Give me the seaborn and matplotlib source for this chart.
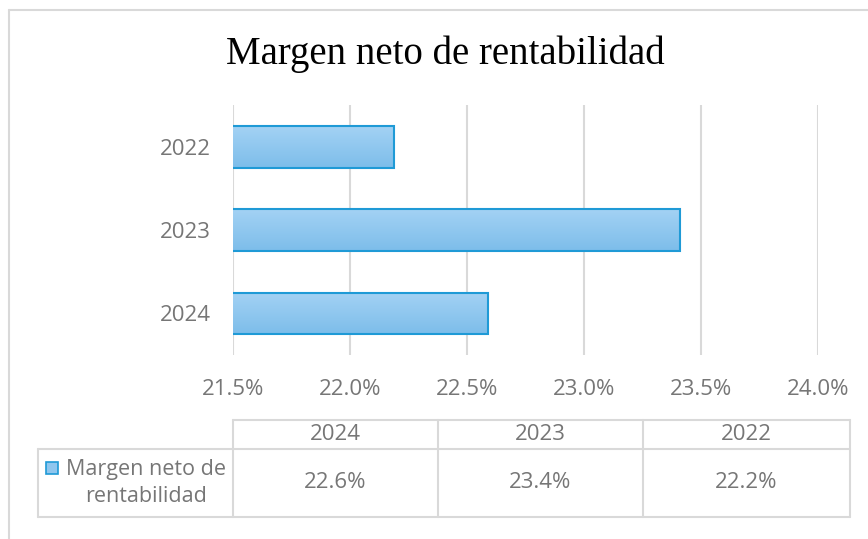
import numpy as np
import pandas as pd
import matplotlib
matplotlib.use('Agg')
import matplotlib.pyplot as plt
import seaborn as sns
from matplotlib.patches import Rectangle
from matplotlib.lines import Line2D
from matplotlib.colors import LinearSegmentedColormap

# datos
anios = ['2022', '2023', '2024']
margen = [22.19, 23.41, 22.59]
anios_tabla = ['2024', '2023', '2022']
ticks_x = [21.5, 22.0, 22.5, 23.0, 23.5, 24.0]
serie = 'Margen neto de rentabilidad'

df = pd.DataFrame({'anio': anios, 'margen': margen})

sns.set_theme(style='white')
plt.rcParams['font.family'] = ['Open Sans', 'DejaVu Sans']

W, H = 868, 539
gris = '#767676'
linea = '#d9d9d9'
borde = '#1f9ad6'
xmin, xmax = 21.5, 24.0
fs = 16

fig = plt.figure(figsize=(W / 100, H / 100), dpi=100)
ax = fig.add_axes([233 / W, 1 - 355 / H, (818 - 233) / W, 250 / H])

sns.barplot(data=df, x='margen', y='anio', order=anios, color='#8fc6ee',
            edgecolor=borde, linewidth=1.5, width=0.5, ax=ax)

# relleno degradado como en Excel
cmap = LinearSegmentedColormap.from_list('deg', ['#a3d2f4', '#7dbdea'])
grad = np.linspace(0, 1, 64).reshape(-1, 1)
for p in ax.patches:
    x0, y0 = p.get_x(), p.get_y()
    w, h = p.get_width(), p.get_height()
    im = ax.imshow(grad, extent=[max(x0, xmin), x0 + w, y0 + h, y0], aspect='auto',
                   cmap=cmap, zorder=p.get_zorder() - 0.1)
    p.set_facecolor('none')

ax.set_xlim(xmin, xmax)
ax.set_ylim(2.5, -0.5)
ax.set_xticks(ticks_x)
ax.set_xticklabels([f'{v:.1f}%' for v in ticks_x])
ax.grid(axis='x', color=linea, linewidth=1.5)
ax.set_axisbelow(True)
for s in ax.spines.values():
    s.set_visible(False)
ax.set_xlabel('')
ax.set_ylabel('')
ax.tick_params(axis='x', colors=gris, labelsize=fs, pad=17, length=0)
ax.tick_params(axis='y', colors=gris, labelsize=fs, pad=16, length=0)

# titulo
fig.text(445 / W, 1 - 54 / H, serie, ha='center', va='center',
         fontsize=28, family='Liberation Serif', color='black')

# borde del area del grafico
fig.add_artist(Line2D([9 / W, 9 / W], [0, 1 - 10 / H], color=linea, lw=1.5))
fig.add_artist(Line2D([9 / W, 1], [1 - 10 / H, 1 - 10 / H], color=linea, lw=1.5))

# tabla de datos
def fx(x):
    return x / W

def fy(y):
    return 1 - y / H

cols = [233, 438, 643, 850]
fig.add_artist(Line2D([fx(233), fx(850)], [fy(420), fy(420)], color=linea, lw=1.5))
for yy in [449, 517]:
    fig.add_artist(Line2D([fx(38), fx(850)], [fy(yy), fy(yy)], color=linea, lw=1.5))
fig.add_artist(Line2D([fx(38), fx(38)], [fy(449), fy(517)], color=linea, lw=1.5))
for xx in cols:
    fig.add_artist(Line2D([fx(xx), fx(xx)], [fy(420), fy(517)], color=linea, lw=1.5))

valores = dict(zip(anios, margen))
for i, a in enumerate(anios_tabla):
    xc = (cols[i] + cols[i + 1]) / 2
    fig.text(fx(xc), fy(435), a, ha='center', va='center', fontsize=fs, color=gris)
    fig.text(fx(xc), fy(483), f'{valores[a]:.1f}%', ha='center', va='center',
             fontsize=fs, color=gris)

fig.text(fx(146), fy(483), 'Margen neto de\nrentabilidad', ha='center', va='center',
         fontsize=15.5, color=gris, linespacing=1.35)
fig.add_artist(Rectangle((fx(46), fy(474)), 12 / W, 12 / H, transform=fig.transFigure,
                         facecolor='#8fc6ee', edgecolor=borde, lw=1.2))

fig.savefig('out.png', dpi=100)
